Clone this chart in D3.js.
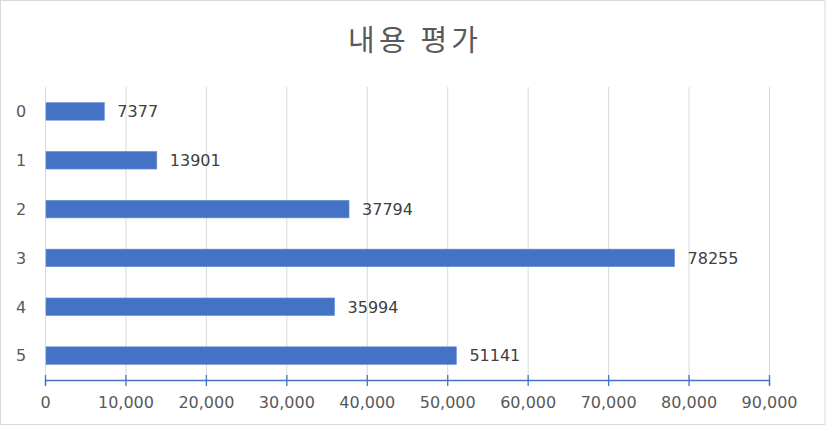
<!DOCTYPE html>
<html><head><meta charset="utf-8">
<script src="https://cdn.jsdelivr.net/npm/d3@7"></script>
<style>body{margin:0;background:#fff}svg{display:block}</style>
</head><body>
<script>
const title = "내용 평가";
const categories = ["0","1","2","3","4","5"];
const values = [7377, 13901, 37794, 78255, 35994, 51141];
const xTicks = [0,10000,20000,30000,40000,50000,60000,70000,80000,90000];

const W = 826, H = 426;
const svg = d3.select("body").append("svg").attr("width", W).attr("height", H);
svg.append("rect").attr("x",0.5).attr("y",0.5).attr("width",W-1.5).attr("height",H-2)
  .attr("fill","#fff").attr("stroke","#d9d9d9");

const font = "'Noto Sans CJK KR','Noto Sans',sans-serif";
const numFont = "'DejaVu Sans',sans-serif";
const pLeft = 45, pRight = 769, pTop = 87, pBottom = 380;

const x = d3.scaleLinear().domain([0, 90000]).range([pLeft, pRight]);
const y = d3.scaleBand().domain(categories).range([pTop, pBottom]).paddingInner(0.64).paddingOuter(0.32);

svg.append("text").attr("x", 348).attr("y", 51)
  .attr("textLength", 130).attr("lengthAdjust","spacing")
  .attr("font-family", font).attr("font-size", 29).attr("fill","#595959").text(title);

// gridlines
svg.append("g").selectAll("line").data(xTicks.slice(1)).join("line")
  .attr("x1", d=>x(d)+0.5).attr("x2", d=>x(d)+0.5).attr("y1", pTop).attr("y2", pBottom)
  .attr("stroke","#d9d9d9").attr("stroke-width",1);
svg.append("line").attr("x1", pLeft+0.5).attr("x2", pLeft+0.5).attr("y1", pTop).attr("y2", pBottom)
  .attr("stroke","#d9d9d9");

// bars
svg.append("g").selectAll("rect").data(values).join("rect")
  .attr("x", x(0)+1).attr("y", (d,i)=>y(categories[i]))
  .attr("width", d=>x(d)-x(0)-1).attr("height", y.bandwidth())
  .attr("fill","#4472C4").attr("stroke","#6a8fd3").attr("stroke-width",0.6);

// value labels
svg.append("g").selectAll("text").data(values).join("text")
  .attr("x", d=>x(d)+13).attr("y", (d,i)=>y(categories[i])+y.bandwidth()/2)
  .attr("dy","0.36em").attr("font-family", numFont).attr("font-size",16).attr("fill","#404040")
  .text(d=>d);

// category labels
svg.append("g").selectAll("text").data(categories).join("text")
  .attr("x", 21).attr("y", d=>y(d)+y.bandwidth()/2).attr("dy","0.36em").attr("text-anchor","middle")
  .attr("font-family", numFont).attr("font-size",16).attr("fill","#595959").text(d=>d);

// x axis
const ax = svg.append("g").attr("transform",`translate(0,${pBottom})`)
  .call(d3.axisBottom(x).tickValues(xTicks).tickFormat(d3.format(",")).tickSizeOuter(0).tickSize(5));
ax.select(".domain").attr("stroke","#4472C4").attr("stroke-width",1.3);
ax.selectAll(".tick line").attr("stroke","#4472C4").attr("stroke-width",1.3).attr("y1",-5).attr("y2",6);
ax.selectAll(".tick text").attr("font-family", numFont).attr("font-size",16).attr("fill","#595959").attr("dy",0).attr("y",28);
</script>
</body></html>
